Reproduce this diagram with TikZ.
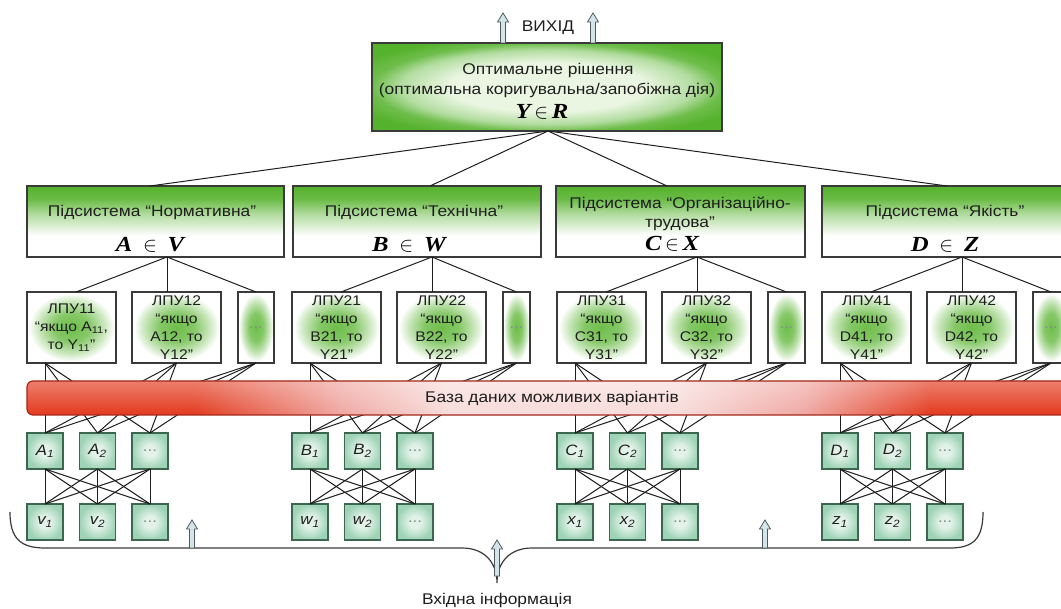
\documentclass[tikz,border=0pt]{standalone}
\usepackage{fontspec}
\setmainfont{Liberation Sans}[FakeStretch=1.12]
\newfontfamily\bifont{Liberation Serif}[FakeStretch=1.15]
\usetikzlibrary{calc,fadings}

\definecolor{boxgreen}{HTML}{55B22C}
\definecolor{topinner}{HTML}{EAF6E2}
\definecolor{lpugreen}{HTML}{5EB636}
\definecolor{sqfill}{HTML}{9ED3B6}
\definecolor{sqlight}{HTML}{E2F2E8}
\definecolor{sqedge}{HTML}{3C6650}
\definecolor{dbred}{HTML}{E33A1E}
\definecolor{dbpink}{HTML}{F0A8A3}
\definecolor{dbpale}{HTML}{F8DCDA}
\definecolor{dbedge}{HTML}{A3271A}
\definecolor{arrfill}{HTML}{D3E5E8}
\definecolor{arredge}{HTML}{4F5A5E}
\definecolor{ink}{HTML}{1E1E1E}
\definecolor{edgegray}{HTML}{3A3A3A}
\definecolor{dotgray}{HTML}{7E8C8A}

% fills of the boxes (the filled path spans 25bp..75bp of each shading)
\pgfdeclareradialshading{topglow}{\pgfpoint{0bp}{0bp}}{color(0bp)=(topinner); color(14bp)=(topinner); color(21bp)=(boxgreen!45!white); color(25bp)=(boxgreen!85!white); color(30bp)=(boxgreen); color(50bp)=(boxgreen)}
\pgfdeclareverticalshading{subfade}{100bp}{color(0bp)=(white); color(25bp)=(white); color(40bp)=(white); color(55bp)=(boxgreen!45!white); color(66bp)=(boxgreen!88!white); color(75bp)=(boxgreen); color(100bp)=(boxgreen)}
\pgfdeclareradialshading{lpuglow}{\pgfpoint{0bp}{0bp}}{color(0bp)=(lpugreen!90!white); color(10bp)=(lpugreen!75!white); color(18bp)=(lpugreen!35!white); color(24bp)=(white); color(50bp)=(white)}
\pgfdeclareradialshading{sqglow}{\pgfpoint{0bp}{0bp}}{color(0bp)=(sqlight); color(8bp)=(sqlight); color(25bp)=(sqfill); color(50bp)=(sqfill)}
\pgfdeclarehorizontalshading{dbshade}{100bp}{color(0bp)=(dbred); color(25bp)=(dbred); color(33bp)=(dbred); color(40bp)=(dbpink); color(45bp)=(dbpale); color(56bp)=(dbpale); color(62bp)=(dbpink); color(68bp)=(dbred); color(100bp)=(dbred)}
\tikzfading[name=shine, top color=transparent!65, middle color=transparent!100, bottom color=transparent!100]

\newcommand\sqdots{\textcolor{dotgray}{\upshape...}}
% hollow upward arrow: x, tip y, base y
\newcommand\liftarrow[3]{%
  \draw[upar] (#1-2.5,#3) -- (#1-2.5,#2+9) -- (#1-5.5,#2+9) -- (#1,#2)
    -- (#1+5.5,#2+9) -- (#1+2.5,#2+9) -- (#1+2.5,#3) -- cycle;}

\begin{document}
\begin{tikzpicture}[x=1pt,y=-1pt,
  conn/.style={draw=ink, line width=1pt},
  topbox/.style={draw=edgegray, line width=1.3pt, shading=topglow, minimum width=350pt,
    minimum height=88pt, anchor=north west, inner sep=0pt, outer sep=0pt},
  subbox/.style={draw=edgegray, line width=1.2pt, shading=subfade, minimum height=71pt,
    anchor=north west, inner sep=0pt, outer sep=0pt},
  lpubox/.style={draw=edgegray, line width=1.1pt, shading=lpuglow, minimum height=71pt,
    anchor=north west, inner sep=0pt, outer sep=0pt, align=center,
    font=\fontsize{14}{18}\selectfont, text=ink},
  sq/.style={draw=sqedge, line width=1.3pt, shading=sqglow, minimum size=36pt,
    inner sep=0pt, outer sep=0pt, font=\fontsize{15}{17}\selectfont\itshape, text=ink},
  ttl/.style={anchor=base, font=\fontsize{15.5}{19}\selectfont, text=ink, inner sep=0pt},
  bit/.style={anchor=base, font=\fontsize{21.5}{24}\selectfont\bifont\bfseries\itshape,
    text=black, inner sep=0pt},
  upar/.style={draw=arredge, line width=0.8pt, fill=arrfill},
  dbbar/.style={draw=dbedge, line width=1.2pt, rounded corners=6pt, shading=dbshade,
    minimum width=1050pt, minimum height=34pt, anchor=north west, inner sep=0pt,
    outer sep=0pt, font=\fontsize{15.5}{18}\selectfont, text=ink,
    path picture={\fill[white, path fading=shine]
      (path picture bounding box.north west) rectangle (path picture bounding box.south east);}},
  brace/.style={draw=edgegray, line width=1.2pt},
]
\useasboundingbox (0,0) rectangle (1061,609);

% ---------- output block ----------
\node[topbox] (top) at (372,43) {};
\node[ttl] (top1) at (548,75) {Оптимальне рішення};
\node[ttl] (top2) at (547,95) {(оптимальна коригувальна/запобіжна дія)};
\node[bit] (top3) at (542,119) {Y\,$\in$\,R};
\node[ttl] (out) at (548,32) {ВИХІД};
\liftarrow{503}{13}{43}
\liftarrow{593}{13}{43}
\coordinate (tb) at ($(top.south)+(1,0)$);

% ---------- subsystems ----------
\node[subbox, minimum width=257pt] (s1) at (27,186) {};
\node[subbox, minimum width=248pt] (s2) at (293,186) {};
\node[subbox, minimum width=249pt] (s3) at (556,186) {};
\node[subbox, minimum width=248pt] (s4) at (822,186) {};

\node[ttl] (s1t) at (152,217) {Підсистема “Нормативна”};
\node[bit] (s1m) at (150,252) {A\enspace$\in$\enspace V};
\node[ttl] (s2t) at (414,217) {Підсистема “Технічна”};
\node[bit] (s2m) at (409,252) {B\enspace$\in$\enspace W};
\node[ttl] (s3t) at (680,209) {Підсистема “Організаційно-};
\node[ttl] (s3u) at (680,228) {трудова”};
\node[bit] (s3m) at (672,251) {C\,$\in$\,X};
\node[ttl] (s4t) at (945,217) {Підсистема “Якість”};
\node[bit] (s4m) at (945,252) {D\enspace$\in$\enspace Z};

% ---------- production rules ----------
\node[lpubox, minimum width=89pt] (l11) at (27,292) {ЛПУ11\\“якщо A\textsubscript{11},\\то Y\textsubscript{11}”};
\node[lpubox, minimum width=89pt] (l12) at (132,292) {ЛПУ12\\“якщо\\A12, то\\Y12”};
\node[lpubox, minimum width=89pt] (l21) at (292,292) {ЛПУ21\\“якщо\\B21, то\\Y21”};
\node[lpubox, minimum width=89pt] (l22) at (397,292) {ЛПУ22\\“якщо\\B22, то\\Y22”};
\node[lpubox, minimum width=89pt] (l31) at (557,292) {ЛПУ31\\“якщо\\C31, то\\Y31”};
\node[lpubox, minimum width=89pt] (l32) at (662,292) {ЛПУ32\\“якщо\\C32, то\\Y32”};
\node[lpubox, minimum width=89pt] (l41) at (822,292) {ЛПУ41\\“якщо\\D41, то\\Y41”};
\node[lpubox, minimum width=89pt] (l42) at (927,292) {ЛПУ42\\“якщо\\D42, то\\Y42”};
\foreach \i/\x/\w in {1/238/36,2/503/27,3/768/37,4/1033/36}{
  \node[lpubox, minimum width=\w pt] (l\i3) at (\x,292) {\sqdots};
}

% ---------- elements and inputs ----------
\foreach \i/\gx/\U/\L in {1/27/A/v,2/292/B/w,3/557/C/x,4/822/D/z}{
  \node[sq] (q\i1) at (\gx+18,451) {\U\textsubscript{1}};
  \node[sq] (q\i2) at (\gx+70.5,451) {\U\textsubscript{2}};
  \node[sq] (q\i3) at (\gx+123,451) {\sqdots};
  \node[sq] (r\i1) at (\gx+18,522) {\L\textsubscript{1}};
  \node[sq] (r\i2) at (\gx+70.5,522) {\L\textsubscript{2}};
  \node[sq] (r\i3) at (\gx+123,522) {\sqdots};
}

% ---------- connectors ----------
\foreach \i/\o in {1/-5.5,2/13,3/-13.5,4/1}{
  \draw[conn] (tb) -- ($(s\i.north)+(\o,0)$);
  \coordinate (h\i) at ($(l\i2.north |- s\i.south)+(-9.5,0)$);
  \draw[conn] (h\i) -- ($(l\i1.north)+(4.5,0)$);
  \draw[conn] (h\i) -- ($(l\i2.north)+(-9.5,0)$);
  \draw[conn] (h\i) -- (l\i3.north);
  \coordinate (f\i) at (q\i1.north |- l\i1.south);
  \foreach \k in {1,2,3}{
    \draw[conn] (f\i) -- (q\i\k.north);
    \draw[conn] (l\i2.south) -- (q\i\k.north);
    \draw[conn] (l\i3.south) -- (q\i\k.north);
    \foreach \j in {1,2,3}{\draw[conn] (q\i\j.south) -- (r\i\k.north);}
  }
}

% ---------- database ----------
\node[dbbar] (db) at (27,381) {База даних можливих варіантів};

% ---------- input brace ----------
\draw[brace] (10,512) .. controls (10,538) and (20,548) .. (45,548) -- (462,548)
  .. controls (484,548) and (497,562) .. (497,583)
  .. controls (497,562) and (510,548) .. (532,548) -- (950,548)
  .. controls (974,548) and (983,538) .. (983,512);
\liftarrow{192}{520}{548}
\liftarrow{765}{520}{548}
\liftarrow{497}{540}{576}
\node[ttl] (inp) at (497,604) {Вхідна інформація};
\end{tikzpicture}
\end{document}
